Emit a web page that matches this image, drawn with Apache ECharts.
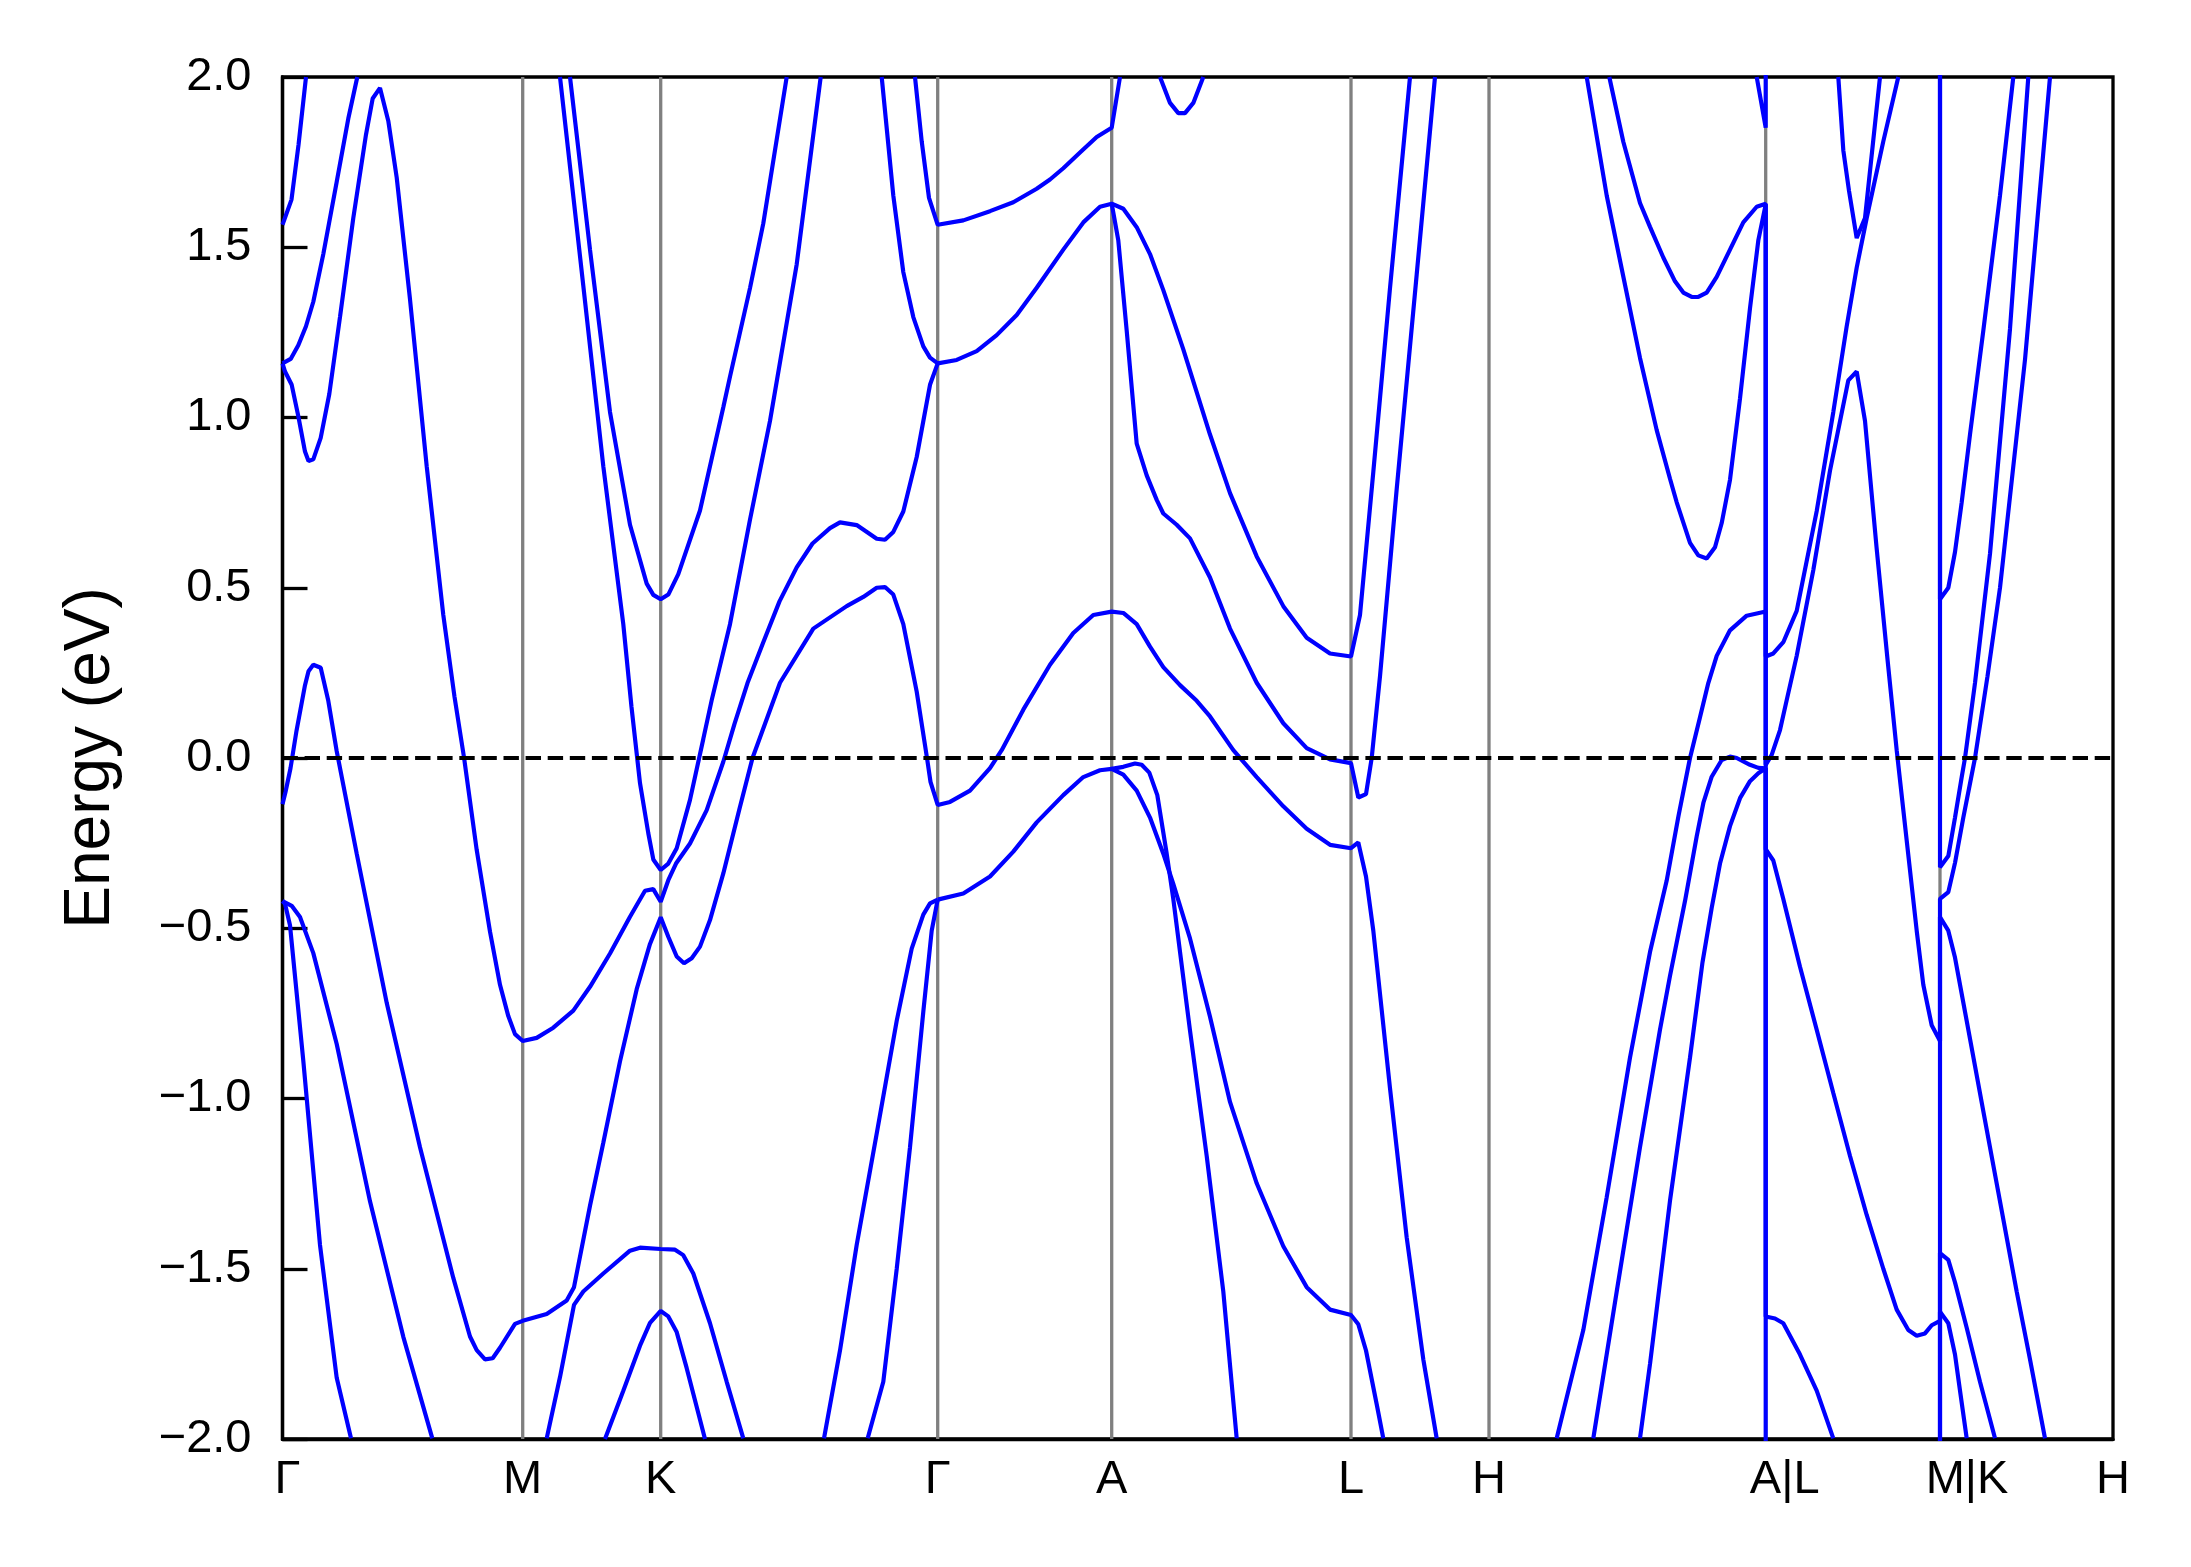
<!DOCTYPE html>
<html>
<head>
<meta charset="utf-8">
<script src="https://cdn.jsdelivr.net/npm/echarts@6/dist/echarts.min.js"></script>
<style>
html,body{margin:0;padding:0;background:#fff;}
#chart{width:2191px;height:1567px;}
</style>
</head>
<body>
<div id="chart"></div>
<script>
// k-path positions of the high-symmetry points (path units) and their labels
const kTicks = [0, 240.2, 378.2, 655.2, 829.2, 1068.5, 1206.5, 1483.2, 1657.5, 1830.5];
const kLabels = ['Γ', 'M', 'K', 'Γ', 'A', 'L', 'H', 'A|L', 'M|K', 'H'];
const energyTicks = [-2, -1.5, -1, -0.5, 0, 0.5, 1, 1.5, 2];

// band pieces: [k, E (eV)]
const band01 = [[0,1.566],[9,1.64],[16,1.80],[23.5,2.0]];
const band02 = [[0,1.159],[8.2,1.172],[15.8,1.212],[23.5,1.268],[30.8,1.34],[40.8,1.48],[54.2,1.692],[65.8,1.878],[74.8,2.0]];
const band03 = [[0,1.159],[2.5,1.135],[9.2,1.096],[15.8,1.004],[22.5,0.90],[26,0.872],[30.8,0.877],[38.2,0.94],[46.8,1.069],[57.5,1.295],[70.8,1.586],[83.5,1.831],[90.2,1.937],[97.5,1.968],[105.8,1.871],[114.2,1.705],[127.5,1.347],[144.2,0.857],[160.8,0.42],[172,0.18],[181.6,0.0],[194.2,-0.27],[207.5,-0.51],[217.5,-0.666],[225.8,-0.758],[232.5,-0.811],[240.2,-0.831],[254.2,-0.822],[270.8,-0.792],[290.8,-0.742],[307.5,-0.672],[327.5,-0.574],[347.5,-0.466],[362.5,-0.39],[370.8,-0.385],[378.2,-0.422],[385.8,-0.359],[393.5,-0.31],[407.5,-0.251],[424.2,-0.153],[440.8,-0.011],[452,0.1],[465,0.22],[480.8,0.34],[497,0.46],[514.2,0.56],[530,0.63],[547.5,0.675],[557.5,0.692],[574.2,0.684],[594.2,0.644],[602.5,0.641],[610.8,0.664],[620.8,0.724],[634.2,0.884],[647.5,1.096],[655.2,1.159]];
const band04 = [[277.5,2.0],[300.8,1.387],[320.8,0.857],[340.8,0.393],[349,0.15],[357.5,-0.074],[365.8,-0.221],[370.8,-0.298],[378.2,-0.329],[385.8,-0.31],[394.2,-0.265],[407.5,-0.123],[420.8,0.056],[429.2,0.17],[447.5,0.393],[467.5,0.70],[487.5,0.99],[514.2,1.45],[538.2,2.0]];
const band05 = [[287.5,2.0],[307.5,1.493],[327.5,1.016],[347.5,0.685],[364.2,0.512],[370.8,0.479],[378.2,0.466],[385.8,0.48],[395.8,0.54],[417.5,0.727],[440.8,1.03],[447.5,1.12],[467.5,1.38],[480.8,1.57],[504.2,2.0]];
const band06 = [[0,-0.136],[3,-0.10],[8,-0.03],[14,0.08],[22.5,0.214],[26,0.255],[30.8,0.274],[38.2,0.265],[45.8,0.168],[54.2,0.02],[74.2,-0.281],[104.2,-0.719],[137.5,-1.143],[170.8,-1.527],[187.5,-1.699],[194.2,-1.739],[202.5,-1.766],[210.2,-1.763],[217.5,-1.732],[232.5,-1.662],[240.2,-1.653],[264.2,-1.633],[284.2,-1.593],[291.5,-1.554],[307.5,-1.315],[320.8,-1.13],[337.5,-0.891],[354.2,-0.679],[367.5,-0.546],[378.2,-0.468],[385.8,-0.525],[394.2,-0.583],[401.5,-0.603],[409.2,-0.588],[417.5,-0.554],[427.5,-0.476],[440.8,-0.339],[457.5,-0.143],[470,0.0],[497.5,0.221],[530.8,0.38],[564.2,0.446],[580.8,0.473],[594.2,0.5],[602.5,0.502],[610.8,0.48],[620.8,0.393],[634.2,0.195],[644.5,0.0],[648,-0.07],[655.2,-0.138],[667.5,-0.129],[687.5,-0.096],[707.5,-0.03],[719.2,0.023],[740.8,0.142],[767.5,0.274],[790.8,0.367],[810.8,0.42],[829.2,0.43],[840.8,0.426],[854.2,0.393],[867.5,0.327],[880.8,0.267],[897.5,0.214],[914.2,0.168],[927.5,0.122],[950.8,0.023],[974.2,-0.056],[1000.8,-0.142],[1024.2,-0.208],[1047.5,-0.255],[1068.5,-0.265],[1075.8,-0.248],[1083.5,-0.348],[1090.8,-0.507],[1107.5,-0.97],[1124.2,-1.408],[1140.8,-1.766],[1154.2,-1.998]];
const band07 = [[599.2,2.0],[610.8,1.652],[620.8,1.427],[630.8,1.295],[640.8,1.209],[647.5,1.176],[655.2,1.159],[674.2,1.169],[694.2,1.195],[714.2,1.242],[734.2,1.301],[754.2,1.381],[780.8,1.493],[800.8,1.573],[817.5,1.619],[829.2,1.628],[840.8,1.613],[854.2,1.559],[867.5,1.48],[880.8,1.374],[900.8,1.2],[927.5,0.95],[947.5,0.778],[974.2,0.592],[1000.8,0.446],[1024.2,0.353],[1047.5,0.307],[1068.5,0.298],[1077.5,0.42],[1090.8,0.84],[1107.5,1.38],[1127.5,2.0]];
const band08 = [[632.5,2.0],[639.2,1.811],[646.5,1.645],[655.2,1.566],[680.8,1.579],[707.5,1.606],[730.8,1.632],[754.2,1.672],[767.5,1.699],[780.8,1.732],[797.5,1.778],[814.2,1.824],[829.2,1.851],[837.5,2.0]];
const band09 = [[829.2,1.628],[835.8,1.52],[844.2,1.255],[854.2,0.923],[864.2,0.83],[874.2,0.758],[880.8,0.718],[894.2,0.685],[907.5,0.645],[927.5,0.53],[947.5,0.38],[974.2,0.221],[1000.8,0.102],[1024.2,0.029],[1047.5,-0.004],[1068.5,-0.015],[1075.8,-0.116],[1083.5,-0.106],[1089.2,0.0],[1097.5,0.24],[1114.2,0.79],[1134.2,1.42],[1152.5,2.0]];
const band10 = [[655.2,-0.416],[680.8,-0.398],[707.5,-0.348],[730.8,-0.275],[754.2,-0.189],[780.8,-0.109],[800.8,-0.056],[817.5,-0.036],[829.2,-0.032],[840.8,-0.049],[854.2,-0.096],[867.5,-0.175],[880.8,-0.281],[890.8,-0.37],[907.5,-0.53],[927.5,-0.76],[947.5,-1.01],[974.2,-1.249],[1000.8,-1.434],[1024.2,-1.554],[1047.5,-1.62],[1068.5,-1.636],[1075.8,-1.663],[1083.5,-1.74],[1094.2,-1.898],[1100.8,-1.998]];
const band11 = [[829.2,-0.032],[840.8,-0.026],[852.5,-0.016],[859.2,-0.02],[866.8,-0.043],[874.8,-0.109],[884.2,-0.281],[890.8,-0.414],[907.5,-0.80],[924.2,-1.169],[940.8,-1.567],[954.2,-1.998]];
const band12 = [[541.5,-1.998],[557.5,-1.74],[574.2,-1.43],[594.2,-1.103],[614.2,-0.772],[629.2,-0.56],[640.8,-0.46],[647.5,-0.427],[655.2,-0.416]];
const band13 = [[585.2,-1.998],[600.8,-1.832],[614.2,-1.501],[627.5,-1.143],[640.8,-0.745],[649.2,-0.507],[655.2,-0.416]];
const band14 = [[0,-0.42],[9.2,-0.434],[17.5,-0.467],[30.8,-0.573],[54.2,-0.84],[87.5,-1.302],[120.8,-1.70],[149.8,-1.998]];
const band15 = [[0,-0.42],[2.5,-0.428],[7.5,-0.491],[20.8,-0.889],[37.5,-1.43],[54.2,-1.82],[68.5,-1.998]];
const band16 = [[264.2,-1.998],[277.5,-1.818],[291.5,-1.606],[300.8,-1.567],[320.8,-1.514],[347.5,-1.447],[357.5,-1.438],[378.2,-1.442],[392.5,-1.444],[400.8,-1.46],[410.8,-1.514],[427.5,-1.66],[444.2,-1.832],[460.8,-1.998]];
const band17 = [[322.5,-2.0],[340.8,-1.858],[357.5,-1.726],[367.5,-1.659],[378.2,-1.624],[385.8,-1.64],[394.2,-1.686],[404.2,-1.792],[422.5,-2.0]];
const band18 = [[877.5,2.0],[887.5,1.924],[895.8,1.894],[902.5,1.894],[910.8,1.924],[920.8,2.0]];
const band19 = [[1326.8,2.0],[1340.8,1.81],[1357.5,1.63],[1367.5,1.56],[1380.8,1.47],[1392.5,1.40],[1400.8,1.367],[1409.2,1.354],[1415.8,1.354],[1424.2,1.367],[1434.2,1.413],[1447.5,1.493],[1460.8,1.573],[1474.2,1.619],[1483.2,1.628],[1483.2,0.298],[1490.8,0.307],[1500.8,0.34],[1514.2,0.432],[1534.2,0.725],[1550.8,1.016],[1564.2,1.268],[1574.2,1.44],[1584.2,1.586],[1600.8,1.811],[1615.8,2.0]];
const band20 = [[1304.2,2.0],[1324.2,1.652],[1340.8,1.414],[1357.5,1.175],[1374.2,0.963],[1387.5,0.82],[1394.2,0.751],[1407.5,0.632],[1415.8,0.595],[1424.2,0.586],[1432.5,0.619],[1439.2,0.69],[1447.5,0.817],[1457.5,1.056],[1467.5,1.321],[1475.8,1.52],[1483.2,1.626],[1483.2,-0.02],[1489.2,0.009],[1497.5,0.082],[1504.2,0.17],[1514.2,0.30],[1530.8,0.552],[1547.5,0.844],[1565.8,1.109],[1574.2,1.135],[1582.5,0.99],[1594,0.62],[1605,0.29],[1614.2,0.023],[1624.2,-0.242],[1634.2,-0.507],[1640.8,-0.666],[1649.2,-0.785],[1657.5,-0.831],[1657.5,-0.414],[1665.8,-0.394],[1672.5,-0.308],[1680.8,-0.175],[1692.5,0.0],[1705,0.24],[1717.5,0.5],[1742.5,1.17],[1767.5,2.0]];
const band21 = [[1274.2,-1.998],[1300.8,-1.68],[1324.2,-1.29],[1347.5,-0.88],[1367.5,-0.57],[1384.2,-0.36],[1396,-0.17],[1407.5,0.0],[1417.5,0.12],[1425.8,0.22],[1434.2,0.30],[1447.5,0.375],[1464.2,0.418],[1483.2,0.43],[1483.2,-0.268],[1490.8,-0.301],[1500.8,-0.414],[1517.5,-0.613],[1534.2,-0.798],[1550.8,-0.984],[1567.5,-1.169],[1584.2,-1.342],[1600.8,-1.5],[1614.2,-1.62],[1625.8,-1.68],[1634.2,-1.697],[1642.5,-1.69],[1649.2,-1.666],[1657.5,-1.653],[1657.5,-0.467],[1665.8,-0.507],[1672.5,-0.586],[1684.2,-0.772],[1700.8,-1.037],[1717.5,-1.302],[1734.2,-1.567],[1747.5,-1.766],[1762.5,-1.998]];
const band22 = [[1310.8,-1.998],[1334.2,-1.567],[1357.5,-1.143],[1377.5,-0.798],[1387.5,-0.64],[1402.5,-0.42],[1414.2,-0.23],[1421,-0.13],[1429.2,-0.055],[1439.2,-0.006],[1447.5,0.004],[1454.2,0.0],[1467.5,-0.02],[1475.8,-0.029],[1483.2,-0.03],[1483.2,-1.64],[1492.5,-1.646],[1500.8,-1.66],[1517.5,-1.752],[1534.2,-1.858],[1550.8,-1.998]];
const band23 = [[1357.5,-1.998],[1367.5,-1.78],[1387.5,-1.3],[1407.5,-0.88],[1420,-0.6],[1429.2,-0.44],[1437.5,-0.31],[1447.5,-0.2],[1457.5,-0.118],[1467.5,-0.068],[1475.8,-0.045],[1483.2,-0.03],[1483.2,-2.6]];
const band24 = [[1474.2,2.0],[1483.2,1.851],[1483.2,2.6]];
const band25 = [[1657.5,2.6],[1657.5,0.466],[1665.8,0.5],[1672.5,0.605],[1679.2,0.751],[1687.5,0.95],[1700.8,1.255],[1717.5,1.652],[1730.8,2.0]];
const band26 = [[1657.5,2.6],[1657.5,-0.321],[1665.8,-0.288],[1672.5,-0.175],[1679.2,-0.056],[1682.5,0.0],[1692.5,0.22],[1707.5,0.6],[1727.5,1.26],[1745.8,2.0]];
const band27 = [[1657.5,-2.6],[1657.5,-1.454],[1665.8,-1.474],[1672.5,-1.54],[1684.2,-1.673],[1697.5,-1.832],[1712.5,-1.998]];
const band28 = [[1657.5,-2.6],[1657.5,-1.626],[1665.8,-1.66],[1672.5,-1.752],[1677.5,-1.858],[1684.2,-1.998]];
const band29 = [[1555.8,2.0],[1560.8,1.785],[1566.5,1.666],[1574.2,1.527],[1582.5,1.586],[1597.5,2.0]];

const bands = [band01,band02,band03,band04,band05,band06,band07,band08,band09,band10,
  band11,band12,band13,band14,band15,band16,band17,band18,band19,band20,
  band21,band22,band23,band24,band25,band26,band27,band28,band29];

const FONT = '"Liberation Sans", Arial, Helvetica, sans-serif';
const chart = echarts.init(document.getElementById('chart'), null, {renderer: 'canvas'});

const series = [];
// gray vertical lines at interior high-symmetry points
kTicks.slice(1, -1).forEach(k => {
  series.push({
    type: 'line', data: [[k, -2], [k, 2]], symbol: 'none', silent: true, z: 1,
    lineStyle: {color: '#808080', width: 3.3}, animation: false
  });
});
bands.forEach(b => {
  series.push({
    type: 'line', data: b, symbol: 'none', showSymbol: false, silent: true, z: 2,
    clip: true, lineStyle: {color: '#0000ff', width: 4.17}, animation: false
  });
});
// Fermi level
series.push({
  type: 'line', data: [[kTicks[0], 0], [kTicks[kTicks.length - 1], 0]], symbol: 'none', silent: true, z: 3,
  lineStyle: {color: '#000000', width: 4.17, type: [15.4, 6.7]}, animation: false
});

function kLabel(v) {
  let best = 0;
  for (let i = 1; i < kTicks.length; i++) {
    if (Math.abs(kTicks[i] - v) < Math.abs(kTicks[best] - v)) best = i;
  }
  return best;
}

chart.setOption({
  backgroundColor: '#ffffff',
  animation: false,
  grid: {left: 282.5, top: 77, width: 1830.5, height: 1362, show: true, borderColor: '#000', borderWidth: 3.3, containLabel: false},
  xAxis: {
    type: 'value', min: kTicks[0], max: kTicks[kTicks.length - 1],
    splitLine: {show: false},
    axisLine: {show: true, onZero: false, lineStyle: {color: '#000', width: 3.3}},
    axisTick: {show: false},
    axisLabel: {
      show: true, customValues: kTicks, margin: 18, color: '#000', fontSize: 47, fontFamily: FONT,
      formatter: function (v) {
        const i = kLabel(v);
        const t = kLabels[i];
        if (t === 'A|L') return '{a|' + t + '}';
        if (t === 'M|K') return '{b|' + t + '}';
        if (i === 0) return '{g|' + t + '}';
        return t;
      },
      rich: {
        a: {padding: [0, 0, 0, 38], fontSize: 47, fontFamily: FONT, color: '#000'},
        b: {padding: [0, 0, 0, 54], fontSize: 47, fontFamily: FONT, color: '#000'},
        g: {padding: [0, 0, 0, 10], fontSize: 47, fontFamily: FONT, color: '#000'}
      }
    }
  },
  yAxis: {
    type: 'value', min: -2, max: 2, interval: 0.5,
    name: 'Energy (eV)', nameLocation: 'middle', nameGap: 159,
    nameTextStyle: {fontSize: 64, fontFamily: FONT, color: '#000'},
    splitLine: {show: false},
    axisLine: {show: true, onZero: false, lineStyle: {color: '#000', width: 3.3}},
    axisTick: {show: true, inside: true, length: 25, lineStyle: {color: '#000', width: 3.3}},
    axisLabel: {
      margin: 31, color: '#000', fontSize: 47, fontFamily: FONT,
      formatter: function (v) { return (v < 0 ? '\u2212' : '') + Math.abs(v).toFixed(1); }
    }
  },
  series: series
});
</script>
</body>
</html>
